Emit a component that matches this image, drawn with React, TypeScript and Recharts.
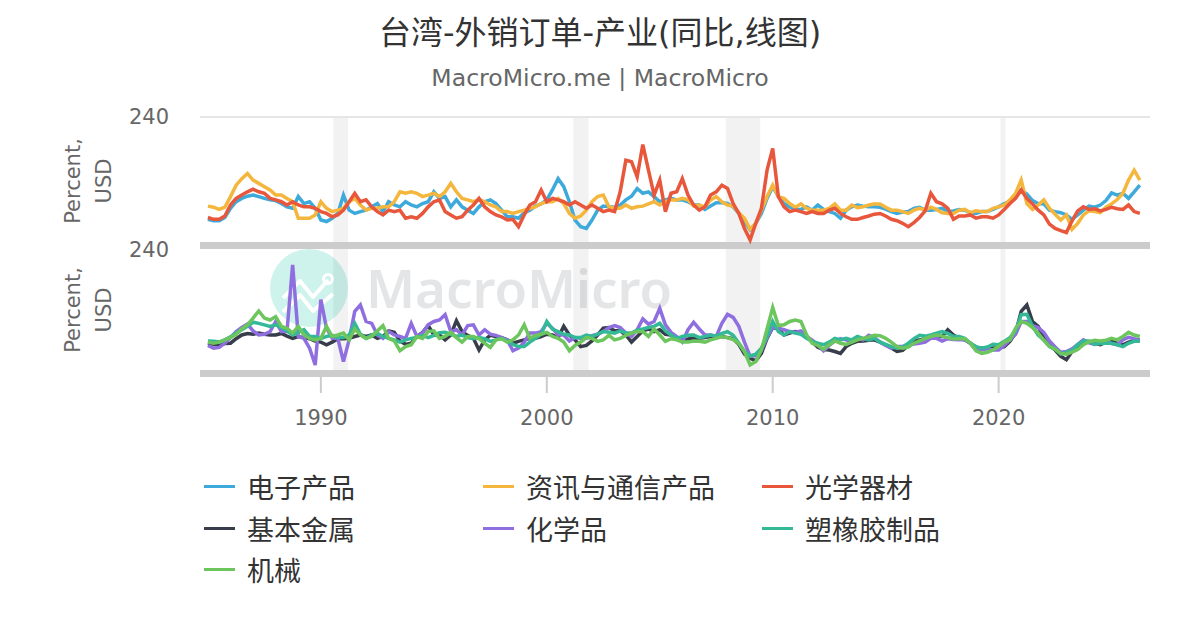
import React from 'react';
import { LineChart, Line, XAxis, YAxis, ReferenceArea, ReferenceLine } from 'recharts';

// Quarterly observations, starting 1985 Q1 (values in %)
const START_YEAR = 1985;

const ELECTRONICS = [
  -39, -43, -43, -34, -9, 9, 18, 24, 27, 23, 18, 14, 12, 4, -5, -9, 23, 4, 9, -9,
  -41, -45, -36, -23, 27, -14, -23, -18, -14, -5, 4, -18, 9, 0, -5, 9, 0, -5, 4, 9,
  36, 18, 23, -5, 14, -5, -14, -23, -5, 9, 14, 4, -14, -32, -32, -36, -21, -14, -3, 3,
  14, 41, 72, 50, 9, -41, -59, -64, -41, -14, -3, -5, -6, 0, 14, 24, 45, 32, 36, 23,
  9, 14, 18, 14, 14, 9, 0, 0, -12, -3, 6, 6, 4, -5, -23, -45, -68, -50, -23, 18,
  50, 23, 4, -5, -12, -12, -5, -14, 0, -12, -18, -23, -36, -14, -5, 0, -3, -5, -5, -6,
  -11, -18, -23, -19, -18, -9, -6, -14, -14, -12, -9, -18, -16, -12, -14, -21, -23, -18, -18, -12,
  -5, 4, 9, 27, 41, 30, 12, 4, 3, -14, -18, -21, -27, -39, -27, -14, -3, -6, 0, 12,
  33, 27, 32, 18, 36, 54,
];

const ICT = [
  -3, -6, -12, -6, 23, 54, 72, 86, 68, 59, 50, 41, 27, 27, 18, 9, -36, -36, -36, -27,
  9, -9, -18, -14, -9, 9, 18, 0, -14, -9, -9, -5, -5, 9, 36, 32, 36, 32, 23, 27,
  32, 23, 36, 59, 36, 18, 14, 9, 14, 9, 0, -5, -18, -18, -23, -18, -14, -9, -5, 4,
  9, 9, 18, 4, -23, -36, -30, -14, 9, 23, 27, -5, -9, -9, 0, -9, -5, -3, 3, 9,
  0, 9, 14, 14, 18, 14, -3, 0, -5, 14, 23, 9, 0, -3, -21, -36, -66, -50, -14, 23,
  54, 23, 18, 4, -6, 3, -9, -14, -14, -14, -9, 3, -14, -14, 0, -7, -5, 0, 3, 3,
  -6, -14, -14, -18, -23, -14, -9, -14, -6, -12, -21, -23, -23, -14, -12, -21, -16, -18, -18, -9,
  -5, 0, 14, 32, 68, 4, -12, 0, 14, -9, -25, -41, -27, -66, -50, -27, -16, -18, -21, -6,
  3, 15, 32, 68, 95, 68,
];

const OPTICAL = [
  -34, -39, -39, -30, 0, 18, 27, 36, 43, 36, 32, 18, 14, 9, 0, 9, 0, -5, -5, -9,
  -18, -23, -32, -27, -14, 9, 32, 9, 14, -5, -18, -27, -14, -18, -14, -36, -32, -36, -23, -5,
  9, 14, -18, -27, -36, -32, -14, 0, 18, -5, -18, -27, -32, -41, -39, -59, -27, 0, 9, 41,
  9, 18, 14, 9, 0, 9, 0, -9, 0, -9, -18, -14, -18, 36, 122, 118, 77, 165, 95, 27,
  68, -18, 32, 36, 72, 27, 0, -14, -5, 27, 36, 54, 45, 4, -23, -64, -95, -50, -9, 95,
  154, 23, -5, -18, -14, -18, -23, -18, -23, -23, -14, -9, -23, -32, -39, -39, -34, -30, -25, -23,
  -30, -39, -43, -50, -59, -48, -34, -16, 32, 9, 3, -9, -39, -30, -30, -27, -36, -32, -32, -36,
  -27, -12, 4, 18, 41, 18, 3, -14, -27, -52, -64, -70, -75, -43, -16, -5, -12, -10, -16, -12,
  -6, -10, -12, 0, -18, -23,
];

const METALS = [
  -9, -12, -13, -10, -9, 3, 13, 17, 15, 18, 15, 13, 13, 17, 10, 4, 9, 6, 3, -3,
  -6, -13, -6, 3, 3, 4, 9, 13, 9, 13, 4, 9, 24, 20, -3, -12, -9, 9, 20, 38,
  13, 13, 0, 13, 51, 22, 12, 4, -27, 0, 12, 9, 6, 0, -9, -4, 0, 4, 4, 9,
  15, 13, 6, 36, 13, 0, -18, -15, -3, 13, 31, 33, 24, 24, 13, -6, 9, 24, 29, 22,
  27, 15, 13, 3, 1, 2, 4, 4, 6, 9, 9, 9, 6, 3, -12, -38, -49, -56, -36, 4,
  33, 29, 13, 18, 22, 20, 9, -6, -20, -26, -27, -31, -36, -18, -9, -4, -3, -1, 0, -6,
  -13, -22, -31, -28, -15, -3, 0, 3, 9, 9, 9, 27, 13, 4, 0, -9, -25, -22, -22, -22,
  -22, -18, -4, 18, 76, 93, 49, 36, 4, -15, -27, -44, -53, -31, -22, -9, -6, -9, -13, -6,
  -4, -9, -13, -6, -3, 0,
];

const CHEMICALS = [
  -15, -22, -20, -9, 6, 22, 33, 42, 24, 13, 15, 22, 49, 22, 22, 200, 9, 4, -22, -67,
  107, 31, 4, 4, -58, 0, 76, 93, 49, 44, 13, 4, 22, 13, 9, 4, 44, 9, 18, 40,
  49, 53, 67, 22, 27, 13, 38, 40, 13, 27, 15, 12, 6, 0, -29, -22, -6, 18, 18, 22,
  44, 31, 13, 13, -3, 6, 4, 4, 11, 15, 22, 33, 38, 33, 18, 9, 27, 56, 42, 49,
  84, 40, 20, 9, -6, 27, 47, 29, 13, 13, 9, 44, 68, 60, 36, -6, -44, -42, -27, 6,
  33, 31, 27, 22, 20, 24, 9, -1, -14, -29, -15, -3, 3, 0, -6, 4, 0, 12, 6, -6,
  -15, -22, -18, -18, -13, -11, -9, -6, 4, 4, -3, 3, 1, 0, 0, -9, -26, -27, -24, -27,
  -27, -15, 0, 15, 49, 49, 38, 33, 20, -3, -19, -33, -31, -24, -12, 0, -8, -12, -6, -3,
  -10, -13, 0, 7, 3, 0,
];

const PLASTICS = [
  -3, -4, -6, 0, 8, 18, 27, 36, 47, 44, 40, 36, 40, 33, 24, 13, 20, 27, 9, 9,
  3, 9, 12, 6, 6, 13, 44, 15, 4, 13, 17, 9, 4, 0, -6, 0, 4, 6, 12, 6,
  12, 19, 20, 15, 9, 13, 6, 3, 6, 3, -4, 0, 4, -3, -12, -18, -18, -6, 4, 15,
  49, 29, 22, 15, 13, 6, 6, 13, 9, 15, 22, 20, 18, 24, 18, 18, 26, 29, 33, 36,
  44, 24, 13, 4, 9, 12, 13, 6, 9, 13, 10, 17, 22, 12, -9, -31, -43, -38, -22, 9,
  49, 22, 13, 22, 18, 15, 4, -4, -9, -13, -6, 4, 0, 4, 0, 9, 4, 0, 4, -6,
  -12, -18, -22, -19, -9, 3, 12, 10, 13, 18, 22, 17, 9, 9, 4, -9, -18, -22, -19, -12,
  -13, -4, 6, 24, 67, 68, 36, 13, 0, -18, -24, -38, -33, -28, -13, -3, -3, -12, -10, -9,
  -9, -13, -18, -9, -4, -4,
];

const MACHINERY = [
  -6, -9, -6, 0, 6, 15, 29, 40, 58, 77, 58, 53, 62, 36, 31, 18, 36, 13, 4, 0,
  4, 36, 9, 13, 18, 0, 29, 13, 4, 9, 24, 38, 4, -3, -29, -18, -13, 9, 4, 22,
  24, 4, 9, 20, 6, -6, 9, 9, 3, -9, -20, 0, 3, -6, 0, 13, 40, 4, 12, 15,
  20, 9, 4, -6, -29, -15, -6, 6, 4, -4, 0, 12, 0, 4, 12, 18, 22, 22, 9, 29,
  13, -4, 3, 0, -6, -6, -3, -4, -6, 0, 4, 8, 6, 1, -9, -31, -67, -58, -27, 29,
  86, 38, 40, 49, 53, 49, 13, -9, -15, -25, -13, -3, -9, -12, -6, 0, 4, 8, 12, 11,
  4, -6, -18, -22, -19, -9, -3, 3, 9, 13, 10, 6, 2, 3, 3, -9, -29, -36, -33, -27,
  -18, -6, 0, 31, 49, 44, 33, 18, -1, -17, -25, -36, -38, -33, -26, -13, -5, -1, -3, -1,
  4, 0, 9, 20, 13, 9,
];

const SERIES = [
  { key: 'electronics', name: '电子产品', color: '#3eaadc', pane: 'top', values: ELECTRONICS },
  { key: 'ict', name: '资讯与通信产品', color: '#f5b63d', pane: 'top', values: ICT },
  { key: 'optical', name: '光学器材', color: '#e8563b', pane: 'top', values: OPTICAL },
  { key: 'metals', name: '基本金属', color: '#383d4b', pane: 'bot', values: METALS },
  { key: 'chemicals', name: '化学品', color: '#8f6ee0', pane: 'bot', values: CHEMICALS },
  { key: 'plastics', name: '塑橡胶制品', color: '#33b898', pane: 'bot', values: PLASTICS },
  { key: 'machinery', name: '机械', color: '#6cc65d', pane: 'bot', values: MACHINERY },
];

const RECESSIONS = [
  [1990.55, 1991.2],
  [2001.17, 2001.85],
  [2007.92, 2009.45],
  [2020.08, 2020.3],
];

const X_TICKS = [1990, 2000, 2010, 2020];
const PANE_TICK = 240;
const TITLE = '台湾-外销订单-产业(同比,线图)';
const SUBTITLE = 'MacroMicro.me | MacroMicro';
const Y_TITLE = ['Percent,', 'USD'];

const data = ELECTRONICS.map((_, i) => {
  const row: Record<string, number> = { t: START_YEAR + i / 4 };
  SERIES.forEach((s) => {
    row[s.key] = s.values[i];
  });
  return row;
});

const LATIN = "'DejaVu Sans', 'Noto Sans CJK SC', sans-serif";
const CJK = "'Noto Sans CJK SC', 'DejaVu Sans', sans-serif";

const XTick = (props: any) => {
  const { x, y, payload } = props;
  return (
    <g>
      <line x1={x} x2={x} y1={y} y2={y + 16} stroke="#cccccc" strokeWidth={2} />
      <text x={x} y={y + 48} textAnchor="middle" fill="#666666" fontSize={21} fontFamily={LATIN}>
        {payload.value}
      </text>
    </g>
  );
};

const YTitle = ({ cy }: { cy: number }) => (
  <div
    style={{
      position: 'absolute',
      left: 88.5 - 70,
      top: cy - 31,
      width: 140,
      height: 62,
      transform: 'rotate(-90deg)',
      display: 'flex',
      flexDirection: 'column',
      alignItems: 'center',
      justifyContent: 'center',
      fontFamily: LATIN,
      fontSize: 21,
      lineHeight: '31px',
      color: '#666666',
      whiteSpace: 'nowrap',
    }}
  >
    {Y_TITLE.map((l) => (
      <div key={l}>{l}</div>
    ))}
  </div>
);

const Watermark = () => (
  <svg width={1200} height={630} style={{ position: 'absolute', left: 0, top: 0, zIndex: 0 }}>
    <circle cx={309} cy={288} r={39} fill="#cdf3ec" />
    <polyline points="283,298 300,281 313,297 328,280" fill="none" stroke="#ffffff" strokeWidth={4} strokeLinejoin="round" />
    <polyline points="283,312 300,295 313,311 333,294" fill="none" stroke="#ffffff" strokeWidth={4} strokeLinejoin="round" />
    <circle cx={328} cy={279} r={4.5} fill="none" stroke="#ffffff" strokeWidth={3} />
    <text
      x={366}
      y={308}
      fontFamily="'Noto Sans', 'DejaVu Sans', sans-serif"
      fontWeight={600}
      fontSize={52}
      fill="#e4e5e7"
      textLength={306}
      lengthAdjust="spacingAndGlyphs"
    >
      MacroMicro
    </text>
  </svg>
);

export default function App() {
  return (
    <div
      style={{
        position: 'absolute',
        left: 0,
        top: 0,
        width: 1200,
        height: 630,
        background: '#ffffff',
        overflow: 'hidden',
      }}
    >
      <Watermark />
      <div
        style={{
          position: 'absolute',
          left: 0,
          top: 13,
          width: 1200,
          textAlign: 'center',
          fontFamily: LATIN,
          fontSize: 32,
          lineHeight: '40px',
          color: '#333333',
        }}
      >
        {TITLE}
      </div>
      <div
        style={{
          position: 'absolute',
          left: 0,
          top: 63,
          width: 1200,
          textAlign: 'center',
          fontFamily: LATIN,
          fontSize: 23.6,
          lineHeight: '30px',
          color: '#666666',
        }}
      >
        {SUBTITLE}
      </div>
      <YTitle cy={181} />
      <YTitle cy={310} />
      <div style={{ position: 'absolute', left: 0, top: 0, zIndex: 1 }}>
        <LineChart width={1200} height={630} data={data} margin={{ top: 117, right: 50, bottom: 193, left: 200 }}>
          {RECESSIONS.map(([a, b]) => (
            <ReferenceArea key={a} yAxisId="top" x1={a} x2={b} fill="#000000" fillOpacity={0.05} stroke="none" />
          ))}
          <ReferenceArea yAxisId="top" y1={-120} y2={-101} fill="#cccccc" fillOpacity={1} stroke="none" />
          <ReferenceArea yAxisId="bot" y1={-99} y2={-80.5} fill="#cccccc" fillOpacity={1} stroke="none" />
          <ReferenceLine
            yAxisId="top"
            y={PANE_TICK}
            stroke="#e6e6e6"
            strokeWidth={2}
            label={{ value: String(PANE_TICK), position: 'left', offset: 31, fill: '#666666', fontSize: 21, fontFamily: LATIN }}
          />
          <ReferenceLine
            yAxisId="bot"
            y={PANE_TICK}
            stroke="none"
            label={{ value: String(PANE_TICK), position: 'left', offset: 31, fill: '#666666', fontSize: 21, fontFamily: LATIN }}
          />
          <XAxis
            dataKey="t"
            type="number"
            domain={[1984.65, 2026.7]}
            ticks={X_TICKS}
            allowDataOverflow
            axisLine={false}
            tickLine={false}
            tickSize={0}
            tickMargin={0}
            height={60}
            tick={<XTick />}
            interval={0}
          />
          <YAxis yAxisId="top" hide domain={[-469, 240]} allowDataOverflow />
          <YAxis yAxisId="bot" hide domain={[-99, 594]} allowDataOverflow />
          {SERIES.map((s) => (
            <Line
              key={s.key}
              yAxisId={s.pane}
              dataKey={s.key}
              name={s.name}
              stroke={s.color}
              strokeWidth={3.5}
              dot={false}
              activeDot={false}
              isAnimationActive={false}
              type="linear"
            />
          ))}
        </LineChart>
      </div>
      <div
        style={{
          position: 'absolute',
          left: 204,
          top: 466,
          width: 900,
          display: 'flex',
          flexWrap: 'wrap',
          zIndex: 2,
        }}
      >
        {SERIES.map((s) => (
          <div key={s.key} style={{ width: 279, height: 41.5, display: 'flex', alignItems: 'center' }}>
            <div style={{ width: 31, height: 3, background: s.color }} />
            <span
              style={{
                marginLeft: 12,
                fontFamily: CJK,
                fontSize: 27,
                color: '#333333',
                lineHeight: '41px',
                whiteSpace: 'nowrap',
              }}
            >
              {s.name}
            </span>
          </div>
        ))}
      </div>
    </div>
  );
}
